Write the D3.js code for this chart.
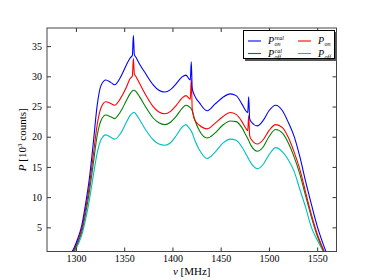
<!DOCTYPE html>
<html>
<head>
<meta charset="utf-8">
<script src="https://cdn.jsdelivr.net/npm/d3@7"></script>
<style>
  body { margin: 0; background: #fff; }
  svg { display: block; }
  text { font-family: "Liberation Serif", "DejaVu Serif", serif; fill: #000; }
</style>
</head>
<body>
<svg id="chart"></svg>
<script>
// chart values
var freq = [1290, 1294, 1298, 1302, 1306, 1310, 1314, 1318, 1322, 1326,
  1331, 1336, 1340, 1346, 1352, 1356, 1358.5, 1359.5, 1360.5, 1362,
  1366, 1372, 1380, 1386, 1392, 1398, 1404, 1410, 1414, 1417,
  1418.5, 1419.5, 1420.5, 1423, 1428, 1436, 1444, 1452, 1460, 1466,
  1472, 1476, 1478, 1479, 1480, 1482, 1488, 1494, 1500, 1507,
  1514, 1520, 1526, 1532, 1538, 1544, 1550, 1556, 1562, 1566];

var onReal = [-1.5, 0.4, 1.6, 3.2, 5.3, 8.9, 13.2, 19.0, 25.2, 28.5,
  29.4, 29.0, 28.6, 29.8, 31.8, 33.0, 33.5, 36.8, 33.6, 33.2,
  32.0, 30.5, 28.6, 27.7, 27.4, 27.8, 28.8, 29.9, 30.2, 29.6,
  29.4, 32.4, 28.0, 26.8, 25.6, 24.3, 25.4, 26.5, 27.1, 26.8,
  25.4, 24.3, 24.0, 26.6, 23.0, 22.4, 21.8, 22.7, 24.3, 25.2,
  24.3, 22.4, 20.1, 16.7, 12.6, 8.8, 5.2, 2.3, -0.2, -2.0];

var on = [-1.8, 0.2, 1.3, 2.8, 4.7, 8.0, 12.0, 17.0, 22.0, 24.8,
  25.8, 25.5, 25.2, 26.3, 28.1, 29.6, 30.1, 33.0, 30.4, 30.0,
  28.8, 27.0, 25.0, 24.1, 23.8, 24.2, 25.2, 26.4, 26.8, 26.4,
  26.2, 29.6, 24.6, 22.8, 21.9, 21.3, 22.2, 23.3, 24.0, 23.7,
  22.5, 21.4, 21.0, 23.5, 20.2, 19.5, 18.8, 19.5, 21.0, 22.0,
  21.5, 19.9, 17.5, 14.6, 10.8, 7.1, 3.9, 1.5, -0.6, -2.2];

var offCal = [-2.0, 0.0, 1.1, 2.5, 4.3, 7.3, 11.0, 15.6, 20.2, 22.7,
  23.6, 23.3, 23.0, 24.1, 25.9, 27.1, 27.6, 27.7, 27.7, 27.5,
  26.6, 25.0, 23.1, 22.3, 22.0, 22.4, 23.4, 24.7, 25.2, 25.0,
  24.8, 24.6, 24.3, 22.9, 21.0, 19.8, 20.6, 21.9, 22.6, 22.5,
  21.5, 20.3, 19.7, 19.4, 19.0, 18.4, 17.6, 18.3, 20.0, 21.2,
  20.6, 19.0, 16.7, 13.8, 10.2, 6.7, 3.6, 1.3, -0.8, -2.4];

var off = [-2.3, -0.3, 0.8, 2.1, 3.7, 6.3, 9.6, 13.6, 17.3, 19.5,
  20.3, 19.9, 19.6, 20.5, 22.3, 23.5, 23.9, 24.0, 24.0, 23.8,
  22.8, 21.2, 19.5, 18.8, 18.6, 19.0, 20.2, 21.6, 22.0, 21.5,
  21.2, 20.9, 20.6, 19.5, 17.8, 16.4, 17.4, 18.9, 19.6, 19.4,
  18.3, 17.2, 16.6, 16.3, 16.0, 15.5, 14.7, 15.4, 17.0, 18.2,
  17.5, 16.2, 14.3, 11.3, 8.3, 5.0, 2.9, 1.1, -1.0, -2.5];

var xTicks = [1300, 1350, 1400, 1450, 1500, 1550];
var yTicks = [5, 10, 15, 20, 25, 30, 35];

// size of chart svg and plot box
var width = 374, height = 280;
var mLeft = 47, mRight = 336.5, mTop = 28, mBottom = 251.5;

var svg = d3.select('#chart').attr('width', width).attr('height', height);

var x = d3.scaleLinear().domain([1270, 1570]).range([mLeft, mRight]);
var y = d3.scaleLinear().domain([1, 38]).range([mBottom, mTop]);

svg.append('clipPath').attr('id', 'plot')
  .append('rect').attr('x', mLeft).attr('y', mTop)
  .attr('width', mRight - mLeft).attr('height', mBottom - mTop);

var series = [
  {vals: onReal, color: '#0000ff'},
  {vals: on, color: '#ff0000'},
  {vals: offCal, color: '#008000'},
  {vals: off, color: '#00bfbf'}
];

var line = d3.line().curve(d3.curveMonotoneX);

var g = svg.append('g').attr('clip-path', 'url(#plot)');
series.slice().reverse().forEach(function(s) {
  g.append('path')
    .attr('d', line(freq.map(function(f, i) { return [x(f), y(s.vals[i])]; })))
    .attr('fill', 'none')
    .attr('stroke', s.color)
    .attr('stroke-width', 1.1);
});

// axes, ticks pointing inward on all sides
var tick = 4;
svg.append('g').attr('transform', 'translate(0,' + mBottom + ')')
  .call(d3.axisBottom(x).tickValues(xTicks).tickFormat(d3.format('d'))
    .tickSizeInner(-tick).tickSizeOuter(0).tickPadding(3))
  .call(function(a) { a.select('.domain').remove(); });
svg.append('g').attr('transform', 'translate(0,' + mTop + ')')
  .call(d3.axisTop(x).tickValues(xTicks).tickSizeInner(-tick).tickSizeOuter(0).tickFormat(''))
  .call(function(a) { a.select('.domain').remove(); });
svg.append('g').attr('transform', 'translate(' + mLeft + ',0)')
  .call(d3.axisLeft(y).tickValues(yTicks).tickSizeInner(-tick).tickSizeOuter(0).tickPadding(5))
  .call(function(a) { a.select('.domain').remove(); });
svg.append('g').attr('transform', 'translate(' + mRight + ',0)')
  .call(d3.axisRight(y).tickValues(yTicks).tickSizeInner(-tick).tickSizeOuter(0).tickFormat(''))
  .call(function(a) { a.select('.domain').remove(); });

svg.selectAll('.tick line').attr('stroke', '#333');
svg.selectAll('.tick text')
  .style('font-family', '"Liberation Serif", serif')
  .style('font-size', '10px')
  .attr('fill', '#222');

svg.append('rect')
  .attr('x', mLeft).attr('y', mTop)
  .attr('width', mRight - mLeft).attr('height', mBottom - mTop)
  .attr('fill', 'none').attr('stroke', '#444').attr('stroke-width', 1);

// axis labels
var xl = svg.append('text')
  .attr('x', (mLeft + mRight) / 2).attr('y', 275)
  .attr('text-anchor', 'middle').style('font-size', '11px');
xl.append('tspan').style('font-style', 'italic').text('ν');
xl.append('tspan').text(' [MHz]');

var yl = svg.append('text')
  .attr('transform', 'translate(26,' + ((mTop + mBottom) / 2) + ') rotate(-90)')
  .attr('text-anchor', 'middle').style('font-size', '11px');
yl.append('tspan').style('font-style', 'italic').text('P');
yl.append('tspan').text(' [10');
yl.append('tspan').attr('dy', -4).style('font-size', '7px').text('3');
yl.append('tspan').attr('dy', 4).text(' counts]');

// legend
var legend = [
  {color: '#0000ff', sup: 'real', sub: 'on', col: 0, row: 0},
  {color: '#008000', sup: 'cal', sub: 'off', col: 0, row: 1},
  {color: '#ff0000', sup: '', sub: 'on', col: 1, row: 0},
  {color: '#00bfbf', sup: '', sub: 'off', col: 1, row: 1}
];
svg.append('rect').attr('x', 245).attr('y', 32).attr('width', 92).attr('height', 29)
  .attr('fill', '#555');
svg.append('rect').attr('x', 243.5).attr('y', 30.5).attr('width', 91).attr('height', 28)
  .attr('fill', '#fff').attr('stroke', '#000').attr('stroke-width', 1);

legend.forEach(function(d) {
  var lx = 248 + d.col * 50, ly = 41 + d.row * 12.5;
  svg.append('line').attr('x1', lx).attr('x2', lx + 13)
    .attr('y1', ly).attr('y2', ly)
    .attr('stroke', d.color).attr('stroke-width', 1.1);
  var tx = lx + 20;
  svg.append('text').attr('x', tx).attr('y', ly + 3)
    .style('font-size', '10px').style('font-style', 'italic').text('P');
  if (d.sup) {
    svg.append('text').attr('x', tx + 6.5).attr('y', ly - 1)
      .style('font-size', '6px').style('font-style', 'italic').text(d.sup);
  }
  svg.append('text').attr('x', tx + 6.5).attr('y', ly + 5)
    .style('font-size', '6px').style('font-style', 'italic').text(d.sub);
});
</script>
</body>
</html>
